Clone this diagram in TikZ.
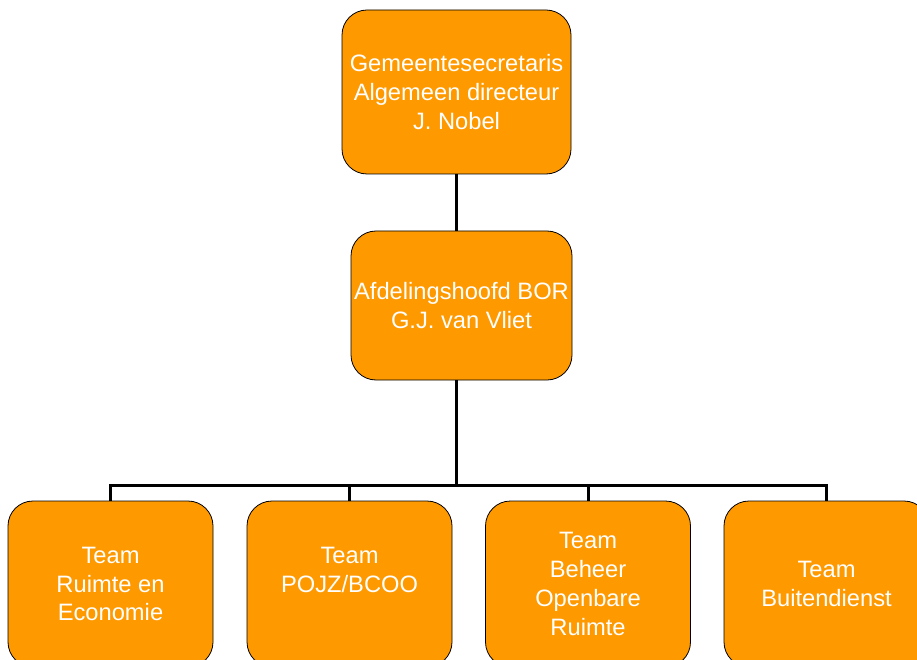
\documentclass[tikz,border=0pt]{standalone}
\usepackage{fontspec}
\setmainfont{Liberation Sans}
\usepackage{xcolor}
\definecolor{boxorange}{HTML}{FF9900}
\newcommand{\boxwd}{205}
\newcommand{\boxht}{166}

\tikzset{
    unit/.style={draw=black, line width=0.8pt, fill=boxorange, rounded corners=25pt,
        text=white, align=center, inner sep=0pt,
        font=\fontsize{23.7}{28.7}\selectfont},
    link/.style={line width=3pt}
}

\begin{document}
\begin{tikzpicture}[x=1pt, y=-1pt]
    \useasboundingbox (0, 0) rectangle (917, 660);
    \clip (0, 0) rectangle (917, 660);

    % boxes
    \node [unit, minimum width=229pt, minimum height=164pt] (sec) at (456.5, 92) {Gemeentesecretaris\\Algemeen directeur\\J. Nobel};
    \node [unit, minimum width=221pt, minimum height=149pt] (hoofd) at (461.5, 305.5) {Afdelingshoofd BOR\\G.J. van Vliet};
    \node [unit, minimum width=\boxwd pt, minimum height=\boxht pt] (ruimte) at (110.5, 584) {Team\\Ruimte en\\Economie};
    \node [unit, minimum width=\boxwd pt, minimum height=\boxht pt] (pojz) at (349.5, 584) {Team\\POJZ/BCOO\\~};
    \node [unit, minimum width=\boxwd pt, minimum height=\boxht pt] (beheer) at (588, 584) {Team\\Beheer\\Openbare\\Ruimte};
    \node [unit, minimum width=\boxwd pt, minimum height=\boxht pt] (buiten) at (826.5, 584) {Team\\Buitendienst};

    % lines
    \coordinate (bar) at (456, 485);
    \draw [link] (sec.south -| bar) -- (hoofd.north -| bar);
    \draw [link] (hoofd.south -| bar) -- (bar);
    \draw [link] (ruimte.north) |- (bar) -| (buiten.north);
    \draw [link] (pojz.north) -- (pojz.north |- bar);
    \draw [link] (beheer.north) -- (beheer.north |- bar);
\end{tikzpicture}
\end{document}
